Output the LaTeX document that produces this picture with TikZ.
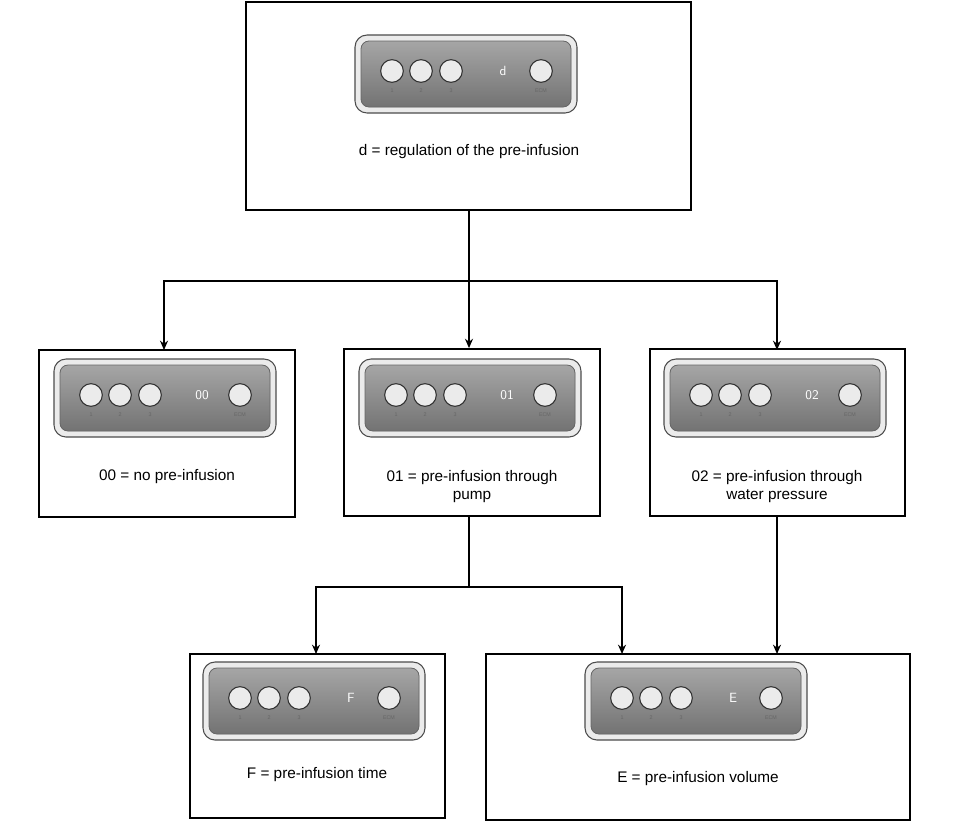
\documentclass[tikz,border=0pt]{standalone}
\usepackage{fontspec}
\usetikzlibrary{arrows.meta}
\setmainfont{Liberation Sans}
\begin{document}
\begin{tikzpicture}[x=0.75pt,y=-0.75pt,
  box/.style={draw,line width=1.6pt},
  lbl/.style={font=\fontsize{11.5}{13.5}\selectfont,align=center},
  arr/.style={line width=1.3pt,-{Stealth[length=7pt,width=6pt]}},
  ln/.style={line width=1.3pt},
  btn/.style={circle,draw=black!80,line width=0.8pt,fill=black!8,minimum size=17pt,inner sep=0pt},
  tiny/.style={font=\fontsize{4}{4}\selectfont,text=black!60,inner sep=0pt},
  panel/.pic={
    \fill[black!8,rounded corners=9pt] (-111,-39) rectangle (111,39);
    \draw[black!70,line width=0.8pt,rounded corners=9pt] (-111,-39) rectangle (111,39);
    \draw[black!60,line width=0.6pt,fill=black!45,rounded corners=6pt,top color=black!35,bottom color=black!55] (-105,-33) rectangle (105,33);
    \node[btn] at (-74,-3) {}; \node[btn] at (-45,-3) {}; \node[btn] at (-15,-3) {};
    \node[btn] at (75,-3) {};
    \node[tiny] at (-74,17) {1}; \node[tiny] at (-45,17) {2}; \node[tiny] at (-15,17) {3};
    \node[tiny] at (75,17) {ECM};
    \node[text=white,font=\sffamily\fontsize{10}{10}\selectfont] at (37,-3) {#1};
  }]
\useasboundingbox (0,0) rectangle (978,829);
\node[box,minimum width=334pt,minimum height=156pt,inner sep=0pt] (top) at (468.5,106) {};
\node[box,minimum width=192pt,minimum height=125pt,inner sep=0pt] (a) at (167,433.5) {};
\node[box,minimum width=192pt,minimum height=125pt,inner sep=0pt] (b) at (472,432.5) {};
\node[box,minimum width=191pt,minimum height=125pt,inner sep=0pt] (c) at (777.5,432.5) {};
\node[box,minimum width=191pt,minimum height=123pt,inner sep=0pt] (f) at (317.5,736) {};
\node[box,minimum width=318pt,minimum height=125pt,inner sep=0pt] (e) at (698,737) {};
\pic at (466,74) {panel=d};
\pic at (165,398) {panel=00};
\pic at (470,398) {panel=01};
\pic at (775,398) {panel=02};
\pic at (314,701) {panel=F};
\pic at (696,701) {panel=E};
\node[lbl] (tt) at (469,152) {d = regulation of the pre-infusion};
\node[lbl] (at) at (167,477) {00 = no pre-infusion};
\node[lbl] (bt) at (472,487) {01 = pre-infusion through\\pump};
\node[lbl] (ct) at (777,487) {02 = pre-infusion through\\water pressure};
\node[lbl] (ft) at (317,775) {F = pre-infusion time};
\node[lbl] (et) at (698,779) {E = pre-infusion volume};
\coordinate (j1) at (469,281);
\coordinate (j2) at (469,587);
\draw[ln] (top.south -| j1) -- (j1);
\draw[arr] (j1) -| (164,350);
\draw[arr] (j1) -- (j1 |- b.north);
\draw[arr] (j1) -| (777,350);
\draw[ln] (j2 |- b.south) -- (j2);
\draw[arr] (j2) -| (316,654);
\draw[arr] (j2) -| (622,654);
\draw[arr] (777,516) -- (777,654);
\end{tikzpicture}
\end{document}
